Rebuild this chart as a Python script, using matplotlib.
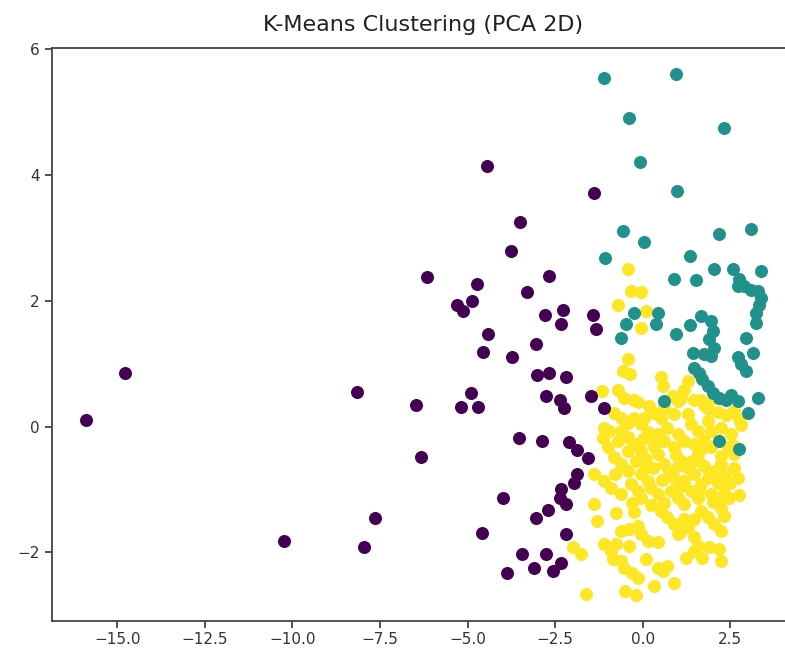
import numpy as np
import matplotlib
matplotlib.use('Agg')
import matplotlib.pyplot as plt

# cluster 0 (roxo)
pc1_c0 = [-15.91, -14.79, -10.25, -8.16, -7.96, -7.65, -6.48, -6.33, -6.16, -4.43,
          -1.38, -3.50, -3.76, -2.67, -4.73, -3.29, -5.29, -4.86, -5.14, -2.79,
          -2.26, -2.33, -1.41, -1.33, -4.41, -3.05, -4.55, -3.73, -3.02, -2.67,
          -2.19, -4.89, -5.19, -4.71, -2.75, -2.35, -2.24, -1.48, -1.10, -3.53,
          -2.86, -2.11, -1.88, -1.57, -1.86, -1.95, -2.33, -2.35, -2.19, -4.00,
          -2.71, -3.05, -4.60, -2.18, -3.45, -2.76, -3.10, -2.34, -2.57, -3.88]
pc2_c0 = [0.11, 0.85, -1.81, 0.55, -1.91, -1.45, 0.35, -0.48, 2.38, 4.14,
          3.71, 3.25, 2.80, 2.40, 2.26, 2.14, 1.94, 2.00, 1.84, 1.78,
          1.85, 1.63, 1.78, 1.56, 1.47, 1.31, 1.18, 1.11, 0.82, 0.86,
          0.79, 0.53, 0.31, 0.32, 0.48, 0.43, 0.30, 0.49, 0.30, -0.18,
          -0.23, -0.25, -0.37, -0.50, -0.76, -0.89, -0.99, -1.13, -1.23, -1.13,
          -1.32, -1.45, -1.69, -1.70, -2.02, -2.02, -2.24, -2.17, -2.30, -2.32]

# cluster 1 (verde)
pc1_c1 = [-1.10, 0.95, -0.38, 2.33, -0.08, 0.98, -0.57, 0.05, 2.19, 3.09,
          -1.08, 1.36, 2.05, 2.57, 3.38, 0.90, 1.52, 2.76, 2.90, 3.09,
          3.29, 3.38, 3.33, 3.24, 3.24, 2.71, -0.24, 0.43, -0.48, 0.38,
          -0.62, 0.95, 1.36, 1.67, 1.95, 2.00, 1.90, 2.05, 1.95, 1.76,
          1.43, 1.47, 1.62, 1.71, 1.86, 2.00, 2.19, 2.38, 2.52, 2.71,
          2.95, 3.14, 2.71, 2.81, 2.95, 3.29, 0.62, 3.00, 2.19, 2.76]
pc2_c1 = [5.54, 5.61, 4.90, 4.75, 4.21, 3.74, 3.11, 2.94, 3.06, 3.15,
          2.68, 2.71, 2.51, 2.51, 2.47, 2.34, 2.33, 2.34, 2.23, 2.18,
          2.15, 2.05, 1.94, 1.81, 1.65, 2.23, 1.81, 1.81, 1.63, 1.63,
          1.41, 1.48, 1.61, 1.76, 1.68, 1.52, 1.39, 1.25, 1.12, 1.15,
          1.17, 0.94, 0.86, 0.75, 0.65, 0.54, 0.46, 0.43, 0.51, 0.41,
          1.41, 1.17, 1.10, 0.99, 0.88, 0.46, 0.41, 0.22, -0.23, -0.36]

# cluster 2 (amarelo)
pc1_c2 = [-0.71, 0.09, -0.05, -0.41, -0.33, -0.05, -0.43, -0.56, -0.36, 0.52,
          0.57, 1.29, 1.19, -1.16, -0.69, -0.53, -0.26, -0.12, 1.09, 0.86,
          1.00, 1.47, 1.67, 1.76, 0.19, 0.33, 0.52, 1.86, 2.14, 2.39,
          2.62, 2.76, -0.81, -0.62, -0.24, 0.05, 0.90, -0.43, -0.05, 2.81,
          -1.10, -0.95, -1.14, -0.62, -0.43, -0.71, 0.14, 0.29, 0.43, 0.71,
          1.00, 1.19, 1.38, 1.57, 1.76, 1.86, 1.95, 2.24, 2.52, 0.62,
          1.95, 2.43, 2.62, -1.00, -0.81, -0.24, -0.05, 0.09, 0.43, 0.33,
          0.90, 1.47, 1.76, 1.57, 2.24, -0.43, -0.62, -0.43, 0.62, 0.76,
          0.90, 1.09, 1.29, 1.47, 1.86, 2.07, 2.24, 2.62, 2.71, -1.38,
          -0.05, 0.09, 1.58, 1.00, 1.19, 1.67, -1.10, -0.91, -0.62, -0.33,
          -0.14, -0.05, 0.24, 0.43, 0.81, 1.00, 1.38, 1.57, 1.95, 2.14,
          2.33, 2.47, 2.76, 0.14, -0.29, 0.62, 1.19, 2.14, 2.24, -1.38,
          -1.29, -0.76, 0.52, 0.71, 0.90, 1.09, 1.67, 1.86, 2.05, 2.24,
          1.19, 1.47, 2.33, -0.62, -0.38, -0.12, -0.05, 1.29, 1.47, 1.57,
          0.14, 0.43, -2.00, -1.76, -1.10, -0.91, -0.76, -0.85, -0.62, 1.47,
          1.90, 2.19, 1.24, 1.71, 2.24, -0.53, -0.29, -0.14, 0.43, 0.71,
          0.57, 0.33, 0.90, -1.61, -0.51, -0.19,
          0.30, 0.55, 1.10, 1.40, 1.75, 0.95, 0.25, 1.60, 2.00, 2.50,
          2.60, 2.35, -0.20, -0.80, -0.25, 0.00, 0.60, 1.30, 2.05, 1.00,
          -0.40, 0.10]
pc2_c2 = [1.94, 1.84, 1.57, 2.50, 2.15, 2.14, 1.07, 0.88, 0.84, 0.79,
          0.65, 0.73, 0.59, 0.57, 0.59, 0.46, 0.43, 0.39, 0.46, 0.49,
          0.41, 0.43, 0.42, 0.34, 0.33, 0.22, 0.14, 0.28, 0.23, 0.18,
          0.25, 0.12, 0.22, 0.14, 0.14, 0.14, 0.20, 0.06, 0.04, 0.03,
          -0.02, -0.07, -0.18, -0.07, -0.16, -0.23, -0.09, -0.20, -0.12, -0.02,
          -0.12, -0.23, 0.04, -0.07, -0.23, 0.09, -0.07, -0.02, -0.12, -0.23,
          -0.33, -0.33, -0.44, -0.33, -0.49, -0.28, -0.39, -0.52, -0.44, -0.33,
          -0.33, -0.28, -0.33, -0.44, -0.47, -0.39, -0.60, -0.70, -0.60, -0.70,
          -0.81, -0.54, -0.65, -0.76, -0.81, -0.70, -0.60, -0.65, -0.81, -0.76,
          -0.76, -0.64, -0.53, -0.62, -0.86, -0.91, -0.86, -0.97, -1.07, -0.91,
          -1.02, -1.13, -0.97, -1.07, -1.02, -1.13, -1.02, -1.13, -1.07, -0.89,
          -1.05, -1.13, -1.08, -0.86, -1.21, -1.21, -1.23, -1.18, -1.29, -1.23,
          -1.50, -1.37, -1.34, -1.44, -1.55, -1.66, -1.34, -1.44, -1.55, -1.66,
          -1.47, -1.47, -1.42, -1.66, -1.62, -1.58, -1.71, -1.60, -1.76, -1.89,
          -1.81, -1.83, -1.92, -2.03, -1.87, -1.97, -1.87, -2.10, -2.13, -1.97,
          -1.92, -1.95, -2.08, -2.08, -2.13, -2.24, -2.32, -2.40, -2.24, -2.21,
          -2.29, -2.53, -2.48, -2.66, -2.61, -2.67,
          -0.65, -0.85, -0.95, -0.55, -0.62, -0.45, -1.25, -1.00, -1.20, -0.90,
          -0.30, -0.75, -0.55, -0.75, -1.35, -0.20, 0.30, 0.20, 0.45, -1.70,
          -1.90, -2.10]

titulo = 'K-Means Clustering (PCA 2D)'

cores = plt.cm.viridis([0.0, 0.5, 1.0])

fig = plt.figure(figsize=(7.85, 6.5), dpi=100)
ax = fig.add_axes([0.0659, 0.0451, 0.9465, 0.8815])

ax.scatter(pc1_c2, pc2_c2, color=cores[2], s=88, linewidths=0)
ax.scatter(pc1_c0, pc2_c0, color=cores[0], s=88, linewidths=0)
ax.scatter(pc1_c1, pc2_c1, color=cores[1], s=88, linewidths=0)

ax.set_title(titulo, fontsize=16, pad=12, color='#222222')
ax.tick_params(labelsize=11, length=5, width=1.2, colors='#333333')
for sp in ax.spines.values():
    sp.set_linewidth(1.3)
    sp.set_color('#444444')

fig.savefig('out.png', dpi=100)
